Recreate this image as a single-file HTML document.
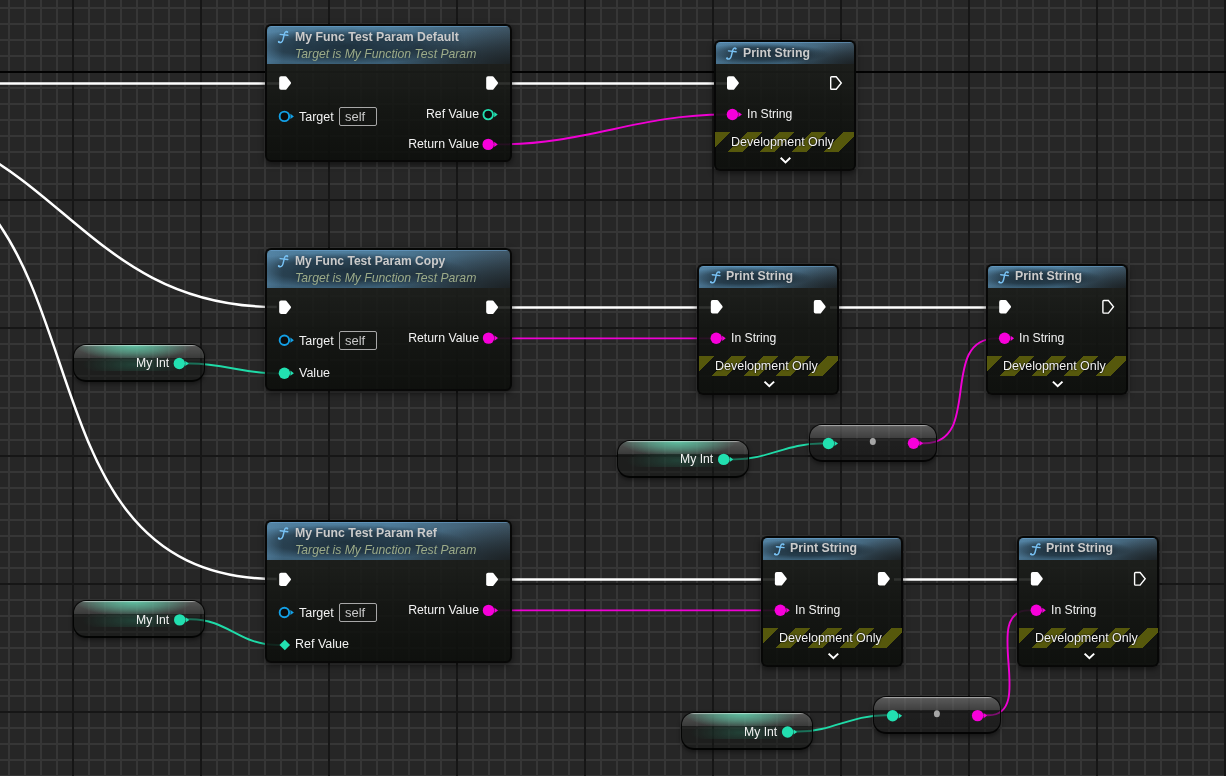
<!DOCTYPE html>
<html><head><meta charset="utf-8"><style>
html,body{margin:0;padding:0;width:1226px;height:776px;overflow:hidden;background:#262626;}
body{position:relative;}

#grid{position:absolute;left:0;top:0;width:1226px;height:776px;
background-color:#262626;
background-image:
 linear-gradient(to bottom, transparent 71px, #020202 71px, #020202 73px, transparent 73px),
 linear-gradient(to right, transparent 72px, #161616 72px, #161616 74px, transparent 74px),
 linear-gradient(to bottom, transparent 71px, #161616 71px, #161616 73px, transparent 73px),
 linear-gradient(to right, transparent 8px, #363636 8px, #363636 10px, transparent 10px),
 linear-gradient(to bottom, transparent 7px, #363636 7px, #363636 9px, transparent 9px);
background-size:1226px 776px, 128px 776px, 1226px 128px, 16px 776px, 1226px 16px;
background-repeat:no-repeat, repeat-x, repeat-y, repeat-x, repeat-y;
}
#wires{position:absolute;left:0;top:0}
.node{position:absolute;box-sizing:border-box;border-radius:6px;border:2px solid rgba(6,6,6,0.92);background:linear-gradient(to bottom, rgba(28,30,27,0.9) 0, rgba(28,30,27,0.9) var(--hb), rgba(20,22,19,0.9) calc(var(--hb) + 30%), rgba(13,15,12,0.9) 100%);box-shadow:0 2px 6px rgba(0,0,0,0.55);}
.hdr{position:absolute;left:2px;top:2px;border-radius:4.5px 4.5px 0 0;
background:
 linear-gradient(to bottom, rgba(110,165,210,0.8) 0, rgba(110,165,210,0.0) 1.5px),
 radial-gradient(ellipse 50% 95% at 100% 100%, rgba(22,24,24,0.75) 0%, rgba(22,24,24,0.4) 50%, rgba(22,24,24,0) 100%),
 linear-gradient(to right, rgba(95,145,180,0.35) 0, rgba(95,145,180,0) 16px),
 radial-gradient(ellipse 50% 46% at 32% 53%, rgba(0,0,0,0.54) 0%, rgba(0,0,0,0.4) 60%, rgba(0,0,0,0) 100%),
 linear-gradient(to bottom, rgba(0,0,0,0) 0%, rgba(0,0,0,0.06) 30%, rgba(0,0,0,0.26) 100%),
 linear-gradient(to right, #5080a0 0%, #4f7e9d 50%, #3f5666 100%);}

.t{position:absolute;white-space:nowrap;font-family:"Liberation Sans", sans-serif;will-change:transform;}
.title span{transform:scaleY(1.07);transform-origin:0 85%;}
.title{font-weight:bold;font-size:12.3px;color:#cbcbcb;text-shadow:0 0 5px rgba(0,8,16,0.35);}
.sub{font-style:italic;font-size:12.2px;color:#9cab89;text-shadow:0 0 5px rgba(0,8,16,0.35);}
.lbl{font-size:12.5px;color:#f2f2f2;}
.r span{left:auto !important;right:0}
.r{font-size:12.3px}
.s12{font-size:12.2px}
.fic{position:absolute;}
.pin{position:absolute;}

.band{position:absolute;width:139px;height:20px;
background:repeating-linear-gradient(135deg, #56580c 0, #56580c 11.3px, rgba(0,0,0,0) 11.3px, rgba(0,0,0,0) 22.63px);}
.dev{text-shadow:0 0 2px #000,0 0 1px #000;}
.self{position:absolute;border:1px solid #a8a8a8;border-radius:2px;width:36px;height:17px;}
.sv{font-size:13px;color:#c8c8c8;}

.var{position:absolute;box-sizing:border-box;width:132px;height:38px;border-radius:13px;border:1px solid rgba(2,2,2,0.92);border-bottom-width:2px;box-shadow:0 2px 4px rgba(0,0,0,0.45);
background:
 linear-gradient(to bottom, rgba(255,255,255,0.62) 0, rgba(255,255,255,0) 1.6px) 0 0/100% 13px no-repeat,
 radial-gradient(ellipse 45% 120% at 46% 0%, rgba(95,205,170,0.9) 0%, rgba(95,205,170,0.5) 50%, rgba(95,205,170,0) 100%) 0 0/100% 13px no-repeat,
 linear-gradient(to bottom, rgba(255,255,255,0.25) 0, rgba(255,255,255,0.13) 13px) 0 0/100% 13px no-repeat,
 radial-gradient(ellipse 40% 100% at 46% 50%, rgba(40,110,88,0.45) 0%, rgba(40,110,88,0.22) 50%, rgba(40,110,88,0) 100%) 0 13px/100% 13px no-repeat,
 rgba(22,24,22,0.55);}
.conv{position:absolute;box-sizing:border-box;width:128px;height:38px;border-radius:13px;border:1px solid rgba(2,2,2,0.92);border-bottom-width:2px;box-shadow:0 2px 4px rgba(0,0,0,0.45);
background:
 linear-gradient(to bottom, rgba(255,255,255,0.62) 0, rgba(255,255,255,0) 1.6px) 0 0/100% 13px no-repeat,
 linear-gradient(to bottom, rgba(255,255,255,0.27) 0, rgba(255,255,255,0.14) 13px) 0 0/100% 13px no-repeat,
 linear-gradient(to bottom, rgba(0,0,0,0) 0, rgba(0,0,0,0.1) 100%) 0 13px/100% 23px no-repeat,
 rgba(26,26,26,0.52);}

</style></head><body>
<div id="grid"></div>
<svg id="wires" width="1226" height="776" viewBox="0 0 1226 776">
<path d="M-10,83.5 L280,83.5" fill="none" stroke="#ffffff" stroke-width="2.5"/>
<path d="M-150.10,120.00 C54.50,120.00 72.10,307.00 276.70,307.00" fill="none" stroke="#ffffff" stroke-width="2.5"/>
<path d="M-158.00,145.80 C131.30,145.80 -12.60,579.00 276.70,579.00" fill="none" stroke="#ffffff" stroke-width="2.5"/>
<path d="M490,83.5 L734,83.5" fill="none" stroke="#ffffff" stroke-width="2.5"/>
<path d="M490,307.5 L717,307.5" fill="none" stroke="#ffffff" stroke-width="2.5"/>
<path d="M830,307.5 L1005,307.5" fill="none" stroke="#ffffff" stroke-width="2.5"/>
<path d="M490,579.5 L781,579.5" fill="none" stroke="#ffffff" stroke-width="2.5"/>
<path d="M894,579.5 L1037,579.5" fill="none" stroke="#ffffff" stroke-width="2.5"/>
<path d="M488.50,144.40 L499.50,144.40 C584.43,144.40 639.47,114.50 724.40,114.50 L732.40,114.50" fill="none" stroke="#f000d4" stroke-width="1.9"/>
<path d="M488.5,338.4 L716.5,338.4" fill="none" stroke="#f000d4" stroke-width="1.9"/>
<path d="M913.50,443.30 L924.50,443.30 C983.47,443.30 937.53,338.40 996.50,338.40 L1004.50,338.40" fill="none" stroke="#f000d4" stroke-width="1.9"/>
<path d="M488.5,610.4 L780.5,610.4" fill="none" stroke="#f000d4" stroke-width="1.9"/>
<path d="M977.50,715.30 L988.50,715.30 C1036.80,715.30 980.20,610.40 1028.50,610.40 L1036.50,610.40" fill="none" stroke="#f000d4" stroke-width="1.9"/>
<path d="M179.40,363.50 L190.40,363.50 C222.37,363.50 244.43,373.40 276.40,373.40 L284.40,373.40" fill="none" stroke="#1fdba8" stroke-width="1.9"/>
<path d="M723.60,459.40 L734.60,459.40 C768.53,459.40 786.57,443.50 820.50,443.50 L828.50,443.50" fill="none" stroke="#1fdba8" stroke-width="1.9"/>
<path d="M179.50,619.20 L190.50,619.20 C227.87,619.20 239.43,645.00 276.80,645.00 L284.80,645.00" fill="none" stroke="#1fdba8" stroke-width="1.9"/>
<path d="M787.50,731.50 L798.50,731.50 C832.53,731.50 850.37,715.30 884.40,715.30 L892.40,715.30" fill="none" stroke="#1fdba8" stroke-width="1.9"/>
</svg>
<div class="node" style="left:265.2px;top:24px;width:247px;height:138px;--hb:40px"></div>
<div class="hdr" style="left:267.2px;top:26px;width:243px;height:38px;position:absolute"></div>
<div class="self" style="left:339.0px;top:107.1px"></div>
<div class="node" style="left:265.2px;top:248.2px;width:247px;height:142.5px;--hb:40px"></div>
<div class="hdr" style="left:267.2px;top:250.2px;width:243px;height:38px;position:absolute"></div>
<div class="self" style="left:339.0px;top:330.9px"></div>
<div class="node" style="left:265.2px;top:520.4px;width:247px;height:143px;--hb:40px"></div>
<div class="hdr" style="left:267.2px;top:522.4px;width:243px;height:38px;position:absolute"></div>
<div class="self" style="left:339.0px;top:603.1999999999999px"></div>
<div class="node" style="left:713.5px;top:40.0px;width:142px;height:130.8px;--hb:24px"></div>
<div class="hdr" style="left:715.5px;top:42.0px;width:138px;height:21.5px;position:absolute"></div>
<div class="band" style="left:715.0px;top:132.0px"></div>
<div class="node" style="left:697.3px;top:264.3px;width:142px;height:131px;--hb:24px"></div>
<div class="hdr" style="left:699.3px;top:266.3px;width:138px;height:21.5px;position:absolute"></div>
<div class="band" style="left:698.8px;top:355.8px"></div>
<div class="node" style="left:985.7px;top:264.3px;width:142px;height:131px;--hb:24px"></div>
<div class="hdr" style="left:987.7px;top:266.3px;width:138px;height:21.5px;position:absolute"></div>
<div class="band" style="left:987.2px;top:355.8px"></div>
<div class="node" style="left:761.4px;top:536.3px;width:142px;height:131px;--hb:24px"></div>
<div class="hdr" style="left:763.4px;top:538.3px;width:138px;height:21.5px;position:absolute"></div>
<div class="band" style="left:762.9px;top:627.8px"></div>
<div class="node" style="left:1017.4px;top:536.3px;width:142px;height:131px;--hb:24px"></div>
<div class="hdr" style="left:1019.4px;top:538.3px;width:138px;height:21.5px;position:absolute"></div>
<div class="band" style="left:1018.9px;top:627.8px"></div>
<div class="var" style="left:73px;top:344px"></div>
<div class="var" style="left:617px;top:440px"></div>
<div class="var" style="left:73px;top:600px"></div>
<div class="var" style="left:681px;top:712px"></div>
<div class="conv" style="left:809px;top:424px"></div>
<div class="conv" style="left:873px;top:696px"></div>
<svg id="fg" width="1226" height="776" viewBox="0 0 1226 776" style="position:absolute;left:0;top:0"><g transform="translate(277.20,30.50)" fill="none" stroke="#78c2f4" stroke-width="1.45" stroke-linecap="round"><path d="M10.3,1.5 C9.0,0.6 7.7,1.3 7.2,3.4 L5.7,9.4 C5.1,11.7 3.3,12.6 1.5,11.6"/><path d="M3.0,3.9 L10.6,4.8"/><circle cx="10.1" cy="1.7" r="0.9" fill="#78c2f4" stroke="none"/><circle cx="1.6" cy="11.3" r="1.0" fill="#78c2f4" stroke="none"/></g><g transform="translate(279.20,76.00)"><path d="M1.8,0.3 L6.3,0.3 Q6.9,0.3 7.3,0.8 L11.6,6.3 Q12.1,7 11.6,7.7 L7.3,13.2 Q6.9,13.7 6.3,13.7 L1.8,13.7 Q0,13.7 0,11.9 L0,2.1 Q0,0.3 1.8,0.3Z" fill="#fff"/></g><g transform="translate(486.20,76.00)"><path d="M1.8,0.3 L6.3,0.3 Q6.9,0.3 7.3,0.8 L11.6,6.3 Q12.1,7 11.6,7.7 L7.3,13.2 Q6.9,13.7 6.3,13.7 L1.8,13.7 Q0,13.7 0,11.9 L0,2.1 Q0,0.3 1.8,0.3Z" fill="#fff"/></g><g transform="translate(284.40,116.40)"><circle cx="0" cy="0" r="4.75" fill="#0b0b0b" stroke="#13a0e6" stroke-width="1.9"/><path d="M6.0,-2.6 L9.5,0 L6.0,2.6Z" fill="#13a0e6"/></g><g transform="translate(488.20,114.60)"><circle cx="0" cy="0" r="4.75" fill="#0b0b0b" stroke="#22e0b0" stroke-width="1.9"/><path d="M6.0,-2.6 L9.5,0 L6.0,2.6Z" fill="#22e0b0"/></g><g transform="translate(488.20,144.40)"><circle cx="0" cy="0" r="5.7" fill="#f700da"/><path d="M6.0,-2.6 L9.5,0 L6.0,2.6Z" fill="#f700da"/></g><g transform="translate(277.20,254.70)" fill="none" stroke="#78c2f4" stroke-width="1.45" stroke-linecap="round"><path d="M10.3,1.5 C9.0,0.6 7.7,1.3 7.2,3.4 L5.7,9.4 C5.1,11.7 3.3,12.6 1.5,11.6"/><path d="M3.0,3.9 L10.6,4.8"/><circle cx="10.1" cy="1.7" r="0.9" fill="#78c2f4" stroke="none"/><circle cx="1.6" cy="11.3" r="1.0" fill="#78c2f4" stroke="none"/></g><g transform="translate(279.20,300.20)"><path d="M1.8,0.3 L6.3,0.3 Q6.9,0.3 7.3,0.8 L11.6,6.3 Q12.1,7 11.6,7.7 L7.3,13.2 Q6.9,13.7 6.3,13.7 L1.8,13.7 Q0,13.7 0,11.9 L0,2.1 Q0,0.3 1.8,0.3Z" fill="#fff"/></g><g transform="translate(486.20,300.20)"><path d="M1.8,0.3 L6.3,0.3 Q6.9,0.3 7.3,0.8 L11.6,6.3 Q12.1,7 11.6,7.7 L7.3,13.2 Q6.9,13.7 6.3,13.7 L1.8,13.7 Q0,13.7 0,11.9 L0,2.1 Q0,0.3 1.8,0.3Z" fill="#fff"/></g><g transform="translate(284.40,340.20)"><circle cx="0" cy="0" r="4.75" fill="#0b0b0b" stroke="#13a0e6" stroke-width="1.9"/><path d="M6.0,-2.6 L9.5,0 L6.0,2.6Z" fill="#13a0e6"/></g><g transform="translate(284.40,373.20)"><circle cx="0" cy="0" r="5.7" fill="#22e0b0"/><path d="M6.0,-2.6 L9.5,0 L6.0,2.6Z" fill="#22e0b0"/></g><g transform="translate(488.50,338.10)"><circle cx="0" cy="0" r="5.7" fill="#f700da"/><path d="M6.0,-2.6 L9.5,0 L6.0,2.6Z" fill="#f700da"/></g><g transform="translate(277.20,526.90)" fill="none" stroke="#78c2f4" stroke-width="1.45" stroke-linecap="round"><path d="M10.3,1.5 C9.0,0.6 7.7,1.3 7.2,3.4 L5.7,9.4 C5.1,11.7 3.3,12.6 1.5,11.6"/><path d="M3.0,3.9 L10.6,4.8"/><circle cx="10.1" cy="1.7" r="0.9" fill="#78c2f4" stroke="none"/><circle cx="1.6" cy="11.3" r="1.0" fill="#78c2f4" stroke="none"/></g><g transform="translate(279.20,572.40)"><path d="M1.8,0.3 L6.3,0.3 Q6.9,0.3 7.3,0.8 L11.6,6.3 Q12.1,7 11.6,7.7 L7.3,13.2 Q6.9,13.7 6.3,13.7 L1.8,13.7 Q0,13.7 0,11.9 L0,2.1 Q0,0.3 1.8,0.3Z" fill="#fff"/></g><g transform="translate(486.20,572.40)"><path d="M1.8,0.3 L6.3,0.3 Q6.9,0.3 7.3,0.8 L11.6,6.3 Q12.1,7 11.6,7.7 L7.3,13.2 Q6.9,13.7 6.3,13.7 L1.8,13.7 Q0,13.7 0,11.9 L0,2.1 Q0,0.3 1.8,0.3Z" fill="#fff"/></g><g transform="translate(284.40,612.50)"><circle cx="0" cy="0" r="4.75" fill="#0b0b0b" stroke="#13a0e6" stroke-width="1.9"/><path d="M6.0,-2.6 L9.5,0 L6.0,2.6Z" fill="#13a0e6"/></g><g transform="translate(284.80,645.00)"><path d="M0,-5.3 L5.3,0 L0,5.3 L-5.3,0Z" fill="#22e0b0"/></g><g transform="translate(488.50,610.40)"><circle cx="0" cy="0" r="5.7" fill="#f700da"/><path d="M6.0,-2.6 L9.5,0 L6.0,2.6Z" fill="#f700da"/></g><g transform="translate(725.50,47.00)" fill="none" stroke="#78c2f4" stroke-width="1.45" stroke-linecap="round"><path d="M10.3,1.5 C9.0,0.6 7.7,1.3 7.2,3.4 L5.7,9.4 C5.1,11.7 3.3,12.6 1.5,11.6"/><path d="M3.0,3.9 L10.6,4.8"/><circle cx="10.1" cy="1.7" r="0.9" fill="#78c2f4" stroke="none"/><circle cx="1.6" cy="11.3" r="1.0" fill="#78c2f4" stroke="none"/></g><g transform="translate(727.00,76.00)"><path d="M1.8,0.3 L6.3,0.3 Q6.9,0.3 7.3,0.8 L11.6,6.3 Q12.1,7 11.6,7.7 L7.3,13.2 Q6.9,13.7 6.3,13.7 L1.8,13.7 Q0,13.7 0,11.9 L0,2.1 Q0,0.3 1.8,0.3Z" fill="#fff"/></g><g transform="translate(830.00,76.00)"><path d="M1.6,0.7 L6.2,0.7 L11.3,7 L6.2,13.3 L1.6,13.3 Q0.7,13.3 0.7,12.4 L0.7,1.6 Q0.7,0.7 1.6,0.7Z" fill="none" stroke="#fff" stroke-width="1.4"/></g><g transform="translate(732.40,114.50)"><circle cx="0" cy="0" r="5.7" fill="#f700da"/><path d="M6.0,-2.6 L9.5,0 L6.0,2.6Z" fill="#f700da"/></g><g transform="translate(779.50,156.00)"><path d="M1.2,1.8 L6,6.4 L10.8,1.8" fill="none" stroke="#fff" stroke-width="2"/></g><g transform="translate(709.30,270.80)" fill="none" stroke="#78c2f4" stroke-width="1.45" stroke-linecap="round"><path d="M10.3,1.5 C9.0,0.6 7.7,1.3 7.2,3.4 L5.7,9.4 C5.1,11.7 3.3,12.6 1.5,11.6"/><path d="M3.0,3.9 L10.6,4.8"/><circle cx="10.1" cy="1.7" r="0.9" fill="#78c2f4" stroke="none"/><circle cx="1.6" cy="11.3" r="1.0" fill="#78c2f4" stroke="none"/></g><g transform="translate(710.80,299.80)"><path d="M1.8,0.3 L6.3,0.3 Q6.9,0.3 7.3,0.8 L11.6,6.3 Q12.1,7 11.6,7.7 L7.3,13.2 Q6.9,13.7 6.3,13.7 L1.8,13.7 Q0,13.7 0,11.9 L0,2.1 Q0,0.3 1.8,0.3Z" fill="#fff"/></g><g transform="translate(813.80,299.80)"><path d="M1.8,0.3 L6.3,0.3 Q6.9,0.3 7.3,0.8 L11.6,6.3 Q12.1,7 11.6,7.7 L7.3,13.2 Q6.9,13.7 6.3,13.7 L1.8,13.7 Q0,13.7 0,11.9 L0,2.1 Q0,0.3 1.8,0.3Z" fill="#fff"/></g><g transform="translate(716.20,338.30)"><circle cx="0" cy="0" r="5.7" fill="#f700da"/><path d="M6.0,-2.6 L9.5,0 L6.0,2.6Z" fill="#f700da"/></g><g transform="translate(763.30,379.80)"><path d="M1.2,1.8 L6,6.4 L10.8,1.8" fill="none" stroke="#fff" stroke-width="2"/></g><g transform="translate(997.70,270.80)" fill="none" stroke="#78c2f4" stroke-width="1.45" stroke-linecap="round"><path d="M10.3,1.5 C9.0,0.6 7.7,1.3 7.2,3.4 L5.7,9.4 C5.1,11.7 3.3,12.6 1.5,11.6"/><path d="M3.0,3.9 L10.6,4.8"/><circle cx="10.1" cy="1.7" r="0.9" fill="#78c2f4" stroke="none"/><circle cx="1.6" cy="11.3" r="1.0" fill="#78c2f4" stroke="none"/></g><g transform="translate(999.20,299.80)"><path d="M1.8,0.3 L6.3,0.3 Q6.9,0.3 7.3,0.8 L11.6,6.3 Q12.1,7 11.6,7.7 L7.3,13.2 Q6.9,13.7 6.3,13.7 L1.8,13.7 Q0,13.7 0,11.9 L0,2.1 Q0,0.3 1.8,0.3Z" fill="#fff"/></g><g transform="translate(1102.20,299.80)"><path d="M1.6,0.7 L6.2,0.7 L11.3,7 L6.2,13.3 L1.6,13.3 Q0.7,13.3 0.7,12.4 L0.7,1.6 Q0.7,0.7 1.6,0.7Z" fill="none" stroke="#fff" stroke-width="1.4"/></g><g transform="translate(1004.60,338.30)"><circle cx="0" cy="0" r="5.7" fill="#f700da"/><path d="M6.0,-2.6 L9.5,0 L6.0,2.6Z" fill="#f700da"/></g><g transform="translate(1051.70,379.80)"><path d="M1.2,1.8 L6,6.4 L10.8,1.8" fill="none" stroke="#fff" stroke-width="2"/></g><g transform="translate(773.40,542.80)" fill="none" stroke="#78c2f4" stroke-width="1.45" stroke-linecap="round"><path d="M10.3,1.5 C9.0,0.6 7.7,1.3 7.2,3.4 L5.7,9.4 C5.1,11.7 3.3,12.6 1.5,11.6"/><path d="M3.0,3.9 L10.6,4.8"/><circle cx="10.1" cy="1.7" r="0.9" fill="#78c2f4" stroke="none"/><circle cx="1.6" cy="11.3" r="1.0" fill="#78c2f4" stroke="none"/></g><g transform="translate(774.90,571.80)"><path d="M1.8,0.3 L6.3,0.3 Q6.9,0.3 7.3,0.8 L11.6,6.3 Q12.1,7 11.6,7.7 L7.3,13.2 Q6.9,13.7 6.3,13.7 L1.8,13.7 Q0,13.7 0,11.9 L0,2.1 Q0,0.3 1.8,0.3Z" fill="#fff"/></g><g transform="translate(877.90,571.80)"><path d="M1.8,0.3 L6.3,0.3 Q6.9,0.3 7.3,0.8 L11.6,6.3 Q12.1,7 11.6,7.7 L7.3,13.2 Q6.9,13.7 6.3,13.7 L1.8,13.7 Q0,13.7 0,11.9 L0,2.1 Q0,0.3 1.8,0.3Z" fill="#fff"/></g><g transform="translate(780.30,610.30)"><circle cx="0" cy="0" r="5.7" fill="#f700da"/><path d="M6.0,-2.6 L9.5,0 L6.0,2.6Z" fill="#f700da"/></g><g transform="translate(827.40,651.80)"><path d="M1.2,1.8 L6,6.4 L10.8,1.8" fill="none" stroke="#fff" stroke-width="2"/></g><g transform="translate(1029.40,542.80)" fill="none" stroke="#78c2f4" stroke-width="1.45" stroke-linecap="round"><path d="M10.3,1.5 C9.0,0.6 7.7,1.3 7.2,3.4 L5.7,9.4 C5.1,11.7 3.3,12.6 1.5,11.6"/><path d="M3.0,3.9 L10.6,4.8"/><circle cx="10.1" cy="1.7" r="0.9" fill="#78c2f4" stroke="none"/><circle cx="1.6" cy="11.3" r="1.0" fill="#78c2f4" stroke="none"/></g><g transform="translate(1030.90,571.80)"><path d="M1.8,0.3 L6.3,0.3 Q6.9,0.3 7.3,0.8 L11.6,6.3 Q12.1,7 11.6,7.7 L7.3,13.2 Q6.9,13.7 6.3,13.7 L1.8,13.7 Q0,13.7 0,11.9 L0,2.1 Q0,0.3 1.8,0.3Z" fill="#fff"/></g><g transform="translate(1133.90,571.80)"><path d="M1.6,0.7 L6.2,0.7 L11.3,7 L6.2,13.3 L1.6,13.3 Q0.7,13.3 0.7,12.4 L0.7,1.6 Q0.7,0.7 1.6,0.7Z" fill="none" stroke="#fff" stroke-width="1.4"/></g><g transform="translate(1036.30,610.30)"><circle cx="0" cy="0" r="5.7" fill="#f700da"/><path d="M6.0,-2.6 L9.5,0 L6.0,2.6Z" fill="#f700da"/></g><g transform="translate(1083.40,651.80)"><path d="M1.2,1.8 L6,6.4 L10.8,1.8" fill="none" stroke="#fff" stroke-width="2"/></g><g transform="translate(179.30,363.50)"><circle cx="0" cy="0" r="5.7" fill="#22e0b0"/><path d="M6.0,-2.6 L9.5,0 L6.0,2.6Z" fill="#22e0b0"/></g><g transform="translate(723.70,459.40)"><circle cx="0" cy="0" r="5.7" fill="#22e0b0"/><path d="M6.0,-2.6 L9.5,0 L6.0,2.6Z" fill="#22e0b0"/></g><g transform="translate(179.70,619.90)"><circle cx="0" cy="0" r="5.7" fill="#22e0b0"/><path d="M6.0,-2.6 L9.5,0 L6.0,2.6Z" fill="#22e0b0"/></g><g transform="translate(787.60,732.00)"><circle cx="0" cy="0" r="5.7" fill="#22e0b0"/><path d="M6.0,-2.6 L9.5,0 L6.0,2.6Z" fill="#22e0b0"/></g><g transform="translate(828.50,443.50)"><circle cx="0" cy="0" r="5.7" fill="#22e0b0"/><path d="M6.0,-2.6 L9.5,0 L6.0,2.6Z" fill="#22e0b0"/></g><g transform="translate(913.50,443.30)"><circle cx="0" cy="0" r="5.7" fill="#f700da"/><path d="M6.0,-2.6 L9.5,0 L6.0,2.6Z" fill="#f700da"/></g><g><ellipse cx="872.80" cy="441.50" rx="3" ry="3.5" fill="#a6a6a6"/></g><g transform="translate(892.60,715.80)"><circle cx="0" cy="0" r="5.7" fill="#22e0b0"/><path d="M6.0,-2.6 L9.5,0 L6.0,2.6Z" fill="#22e0b0"/></g><g transform="translate(977.60,715.60)"><circle cx="0" cy="0" r="5.7" fill="#f700da"/><path d="M6.0,-2.6 L9.5,0 L6.0,2.6Z" fill="#f700da"/></g><g><ellipse cx="936.90" cy="713.80" rx="3" ry="3.5" fill="#a6a6a6"/></g></svg>
<div class="t title" style="left:295.2px;top:40.6px;font-size:12.3px"><span style="position:absolute;left:0;bottom:-0.1535em;line-height:1">My Func Test Param Default</span></div>
<div class="t sub" style="left:295.4px;top:57.7px;"><span style="position:absolute;left:0;bottom:-0.1535em;line-height:1">Target is My Function Test Param</span></div>
<div class="t lbl" style="left:299.09999999999997px;top:121.7px;"><span style="position:absolute;left:0;bottom:-0.1535em;line-height:1">Target</span></div>
<div class="t sv" style="left:344.6px;top:120.9px;"><span style="position:absolute;left:0;bottom:-0.1535em;line-height:1">self</span></div>
<div class="t lbl r" style="left:478.79999999999995px;top:118.2px;"><span style="position:absolute;left:0;bottom:-0.1535em;line-height:1">Ref Value</span></div>
<div class="t lbl r" style="left:478.79999999999995px;top:148.00000000000003px;"><span style="position:absolute;left:0;bottom:-0.1535em;line-height:1">Return Value</span></div>
<div class="t title" style="left:295.2px;top:264.8px;font-size:12.1px"><span style="position:absolute;left:0;bottom:-0.1535em;line-height:1">My Func Test Param Copy</span></div>
<div class="t sub" style="left:295.4px;top:281.9px;"><span style="position:absolute;left:0;bottom:-0.1535em;line-height:1">Target is My Function Test Param</span></div>
<div class="t lbl" style="left:299.09999999999997px;top:345.5px;"><span style="position:absolute;left:0;bottom:-0.1535em;line-height:1">Target</span></div>
<div class="t sv" style="left:344.6px;top:344.7px;"><span style="position:absolute;left:0;bottom:-0.1535em;line-height:1">self</span></div>
<div class="t lbl" style="left:299.4px;top:377.5px;"><span style="position:absolute;left:0;bottom:-0.1535em;line-height:1">Value</span></div>
<div class="t lbl r" style="left:478.79999999999995px;top:341.8px;"><span style="position:absolute;left:0;bottom:-0.1535em;line-height:1">Return Value</span></div>
<div class="t title" style="left:295.2px;top:537.0px;font-size:12.3px"><span style="position:absolute;left:0;bottom:-0.1535em;line-height:1">My Func Test Param Ref</span></div>
<div class="t sub" style="left:295.4px;top:554.1px;"><span style="position:absolute;left:0;bottom:-0.1535em;line-height:1">Target is My Function Test Param</span></div>
<div class="t lbl" style="left:299.09999999999997px;top:617.8px;"><span style="position:absolute;left:0;bottom:-0.1535em;line-height:1">Target</span></div>
<div class="t sv" style="left:344.6px;top:617.0px;"><span style="position:absolute;left:0;bottom:-0.1535em;line-height:1">self</span></div>
<div class="t lbl" style="left:294.5px;top:649.3999999999999px;"><span style="position:absolute;left:0;bottom:-0.1535em;line-height:1">Ref Value</span></div>
<div class="t lbl r" style="left:478.79999999999995px;top:614.0999999999999px;"><span style="position:absolute;left:0;bottom:-0.1535em;line-height:1">Return Value</span></div>
<div class="t title" style="left:742.5px;top:56.6px;"><span style="position:absolute;left:0;bottom:-0.1535em;line-height:1">Print String</span></div>
<div class="t lbl s12" style="left:746.7px;top:118.2px;"><span style="position:absolute;left:0;bottom:-0.1535em;line-height:1">In String</span></div>
<div class="t lbl dev" style="left:730.9px;top:146.70000000000002px;"><span style="position:absolute;left:0;bottom:-0.1535em;line-height:1">Development Only</span></div>
<div class="t title" style="left:726.3px;top:280.40000000000003px;"><span style="position:absolute;left:0;bottom:-0.1535em;line-height:1">Print String</span></div>
<div class="t lbl s12" style="left:730.5px;top:342.0px;"><span style="position:absolute;left:0;bottom:-0.1535em;line-height:1">In String</span></div>
<div class="t lbl dev" style="left:714.6999999999999px;top:370.50000000000006px;"><span style="position:absolute;left:0;bottom:-0.1535em;line-height:1">Development Only</span></div>
<div class="t title" style="left:1014.7px;top:280.40000000000003px;"><span style="position:absolute;left:0;bottom:-0.1535em;line-height:1">Print String</span></div>
<div class="t lbl s12" style="left:1018.9000000000001px;top:342.0px;"><span style="position:absolute;left:0;bottom:-0.1535em;line-height:1">In String</span></div>
<div class="t lbl dev" style="left:1003.1px;top:370.50000000000006px;"><span style="position:absolute;left:0;bottom:-0.1535em;line-height:1">Development Only</span></div>
<div class="t title" style="left:790.4px;top:552.4px;"><span style="position:absolute;left:0;bottom:-0.1535em;line-height:1">Print String</span></div>
<div class="t lbl s12" style="left:794.6px;top:613.9999999999999px;"><span style="position:absolute;left:0;bottom:-0.1535em;line-height:1">In String</span></div>
<div class="t lbl dev" style="left:778.8px;top:642.4999999999999px;"><span style="position:absolute;left:0;bottom:-0.1535em;line-height:1">Development Only</span></div>
<div class="t title" style="left:1046.4px;top:552.4px;"><span style="position:absolute;left:0;bottom:-0.1535em;line-height:1">Print String</span></div>
<div class="t lbl s12" style="left:1050.6px;top:613.9999999999999px;"><span style="position:absolute;left:0;bottom:-0.1535em;line-height:1">In String</span></div>
<div class="t lbl dev" style="left:1034.8px;top:642.4999999999999px;"><span style="position:absolute;left:0;bottom:-0.1535em;line-height:1">Development Only</span></div>
<div class="t lbl s12" style="left:135.7px;top:367.2px;"><span style="position:absolute;left:0;bottom:-0.1535em;line-height:1">My Int</span></div>
<div class="t lbl s12" style="left:680.1px;top:463.09999999999997px;"><span style="position:absolute;left:0;bottom:-0.1535em;line-height:1">My Int</span></div>
<div class="t lbl s12" style="left:136.1px;top:623.6px;"><span style="position:absolute;left:0;bottom:-0.1535em;line-height:1">My Int</span></div>
<div class="t lbl s12" style="left:744.0px;top:735.6999999999999px;"><span style="position:absolute;left:0;bottom:-0.1535em;line-height:1">My Int</span></div>
</body></html>
